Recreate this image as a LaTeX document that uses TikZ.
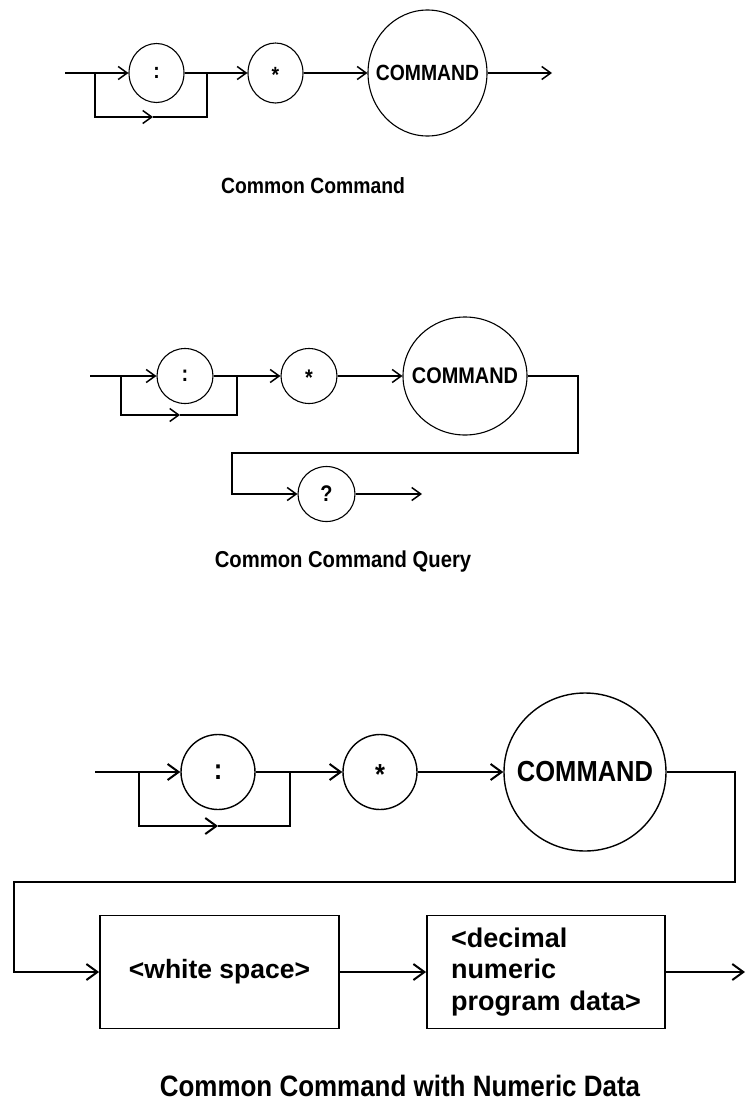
\documentclass[tikz,border=0pt]{standalone}
\usepackage{fontspec}
\newfontfamily\labn{Liberation Sans}[FakeStretch=0.88]
\newfontfamily\lab{Liberation Sans}
\usetikzlibrary{arrows.meta,shapes.geometric}
\begin{document}
\begin{tikzpicture}[x=1pt,y=-1pt,
  oval/.style={draw, ellipse, inner sep=0pt, line width=1.1pt},
  oval3/.style={draw, ellipse, inner sep=0pt, line width=1.4pt},
  rbox/.style={draw, rectangle, inner sep=0pt, line width=1.8pt},
  conn/.style={line width=1.5pt},
  arr/.style={conn, -{Straight Barb[length=9pt,width=13pt,line width=1.5pt]}},
  conn3/.style={line width=2pt},
  arr3/.style={conn3, -{Straight Barb[length=11pt,width=16pt,line width=2pt]}},
  fa/.style={font=\labn\bfseries\fontsize{22}{26}\selectfont},
  fb/.style={font=\labn\bfseries\fontsize{22.6}{27}\selectfont},
  fc/.style={font=\labn\bfseries\fontsize{29}{34}\selectfont},
  capa/.style={font=\labn\bfseries\fontsize{22}{26}\selectfont, anchor=base, inner sep=0pt},
  capb/.style={font=\labn\bfseries\fontsize{23}{27}\selectfont, anchor=base, inner sep=0pt},
  capc/.style={font=\labn\bfseries\fontsize{29.5}{34}\selectfont, anchor=base, inner sep=0pt},
  boxtxt/.style={font=\lab\bfseries\fontsize{26.5}{31.5}\selectfont},
  dectxt/.style={font=\lab\bfseries\fontsize{27}{31.5}\selectfont, align=left, text width=190pt}
]
\useasboundingbox (0,0) rectangle (746,1103);

% ---------- Diagram 1 ----------
\coordinate (in1) at (65,73);
\coordinate (sp1) at (95,73);
\coordinate (jn1) at (207,73);
\coordinate (bp1) at (153,117);
\coordinate (out1) at (552,73);
\node[oval, fa, minimum width=55pt, minimum height=59pt] (c1) at (156.5,73) {\makebox[0pt]{:}};
\node[oval, fa, minimum width=55pt, minimum height=60pt] (st1) at (275.5,73) {\makebox[0pt]{\smash{\raisebox{-0.42em}{*}}}};
\node[oval, fa, minimum width=119pt, minimum height=126pt] (cmd1) at (427.5,73) {\makebox[0pt]{COMMAND}};
\draw[arr] (in1) -- (c1);
\draw[arr] (sp1) |- (bp1);
\draw[conn] (bp1) -| (jn1);
\draw[arr] (c1) -- (st1);
\draw[arr] (st1) -- (cmd1);
\draw[arr] (cmd1) -- (out1);
\node[capa] (cap1) at (313,193) {Common Command};

% ---------- Diagram 2 ----------
\coordinate (in2) at (90,376);
\coordinate (sp2) at (121,376);
\coordinate (jn2) at (237,376);
\coordinate (bp2) at (180,415);
\coordinate (k1) at (578,376);
\coordinate (k3) at (232,453);
\coordinate (out2) at (422,494);
\node[oval, fb, minimum width=56pt, minimum height=55pt] (c2) at (185,376) {\makebox[0pt]{:}};
\node[oval, fb, minimum width=56pt, minimum height=55pt] (st2) at (309,376) {\makebox[0pt]{\smash{\raisebox{-0.42em}{*}}}};
\node[oval, fb, minimum width=124pt, minimum height=118pt] (cmd2) at (465,376) {\makebox[0pt]{COMMAND}};
\node[oval, fb, minimum width=57pt, minimum height=55pt] (q2) at (326.5,494) {\makebox[0pt]{?}};
\draw[arr] (in2) -- (c2);
\draw[arr] (sp2) |- (bp2);
\draw[conn] (bp2) -| (jn2);
\draw[arr] (c2) -- (st2);
\draw[arr] (st2) -- (cmd2);
\draw[arr] (cmd2) -- (k1) |- (k3) |- (q2);
\draw[arr] (q2) -- (out2);
\node[capb] (cap2) at (343,567) {Common Command Query};

% ---------- Diagram 3 ----------
\coordinate (in3) at (95,772);
\coordinate (sp3) at (139,772);
\coordinate (jn3) at (290,772);
\coordinate (bp3) at (218,826);
\coordinate (k5) at (735,772);
\coordinate (k6) at (14,882);
\coordinate (out3) at (745,972);
\node[oval3, fc, minimum width=74pt, minimum height=75pt] (c3) at (218,772) {\makebox[0pt]{:}};
\node[oval3, fc, minimum width=74pt, minimum height=75pt] (st3) at (380,772) {\makebox[0pt]{\smash{\raisebox{-0.42em}{*}}}};
\node[oval3, fc, minimum width=162pt, minimum height=158pt] (cmd3) at (585,772) {\makebox[0pt]{COMMAND}};
\node[rbox, boxtxt, minimum width=239pt, minimum height=113pt] (ws) at (219.5,972) {<white space>};
\node[rbox, dectxt, minimum width=238pt, minimum height=113pt] (dec) at (546,972) {<decimal\\numeric\\program data>};
\draw[arr3] (in3) -- (c3);
\draw[arr3] (sp3) |- (bp3);
\draw[conn3] (bp3) -| (jn3);
\draw[arr3] (c3) -- (st3);
\draw[arr3] (st3) -- (cmd3);
\draw[arr3] (cmd3) -- (k5) |- (k6) |- (ws);
\draw[arr3] (ws) -- (dec);
\draw[arr3] (dec) -- (out3);
\node[capc] (cap3) at (400,1096) {Common Command with Numeric Data};
\end{tikzpicture}
\end{document}
